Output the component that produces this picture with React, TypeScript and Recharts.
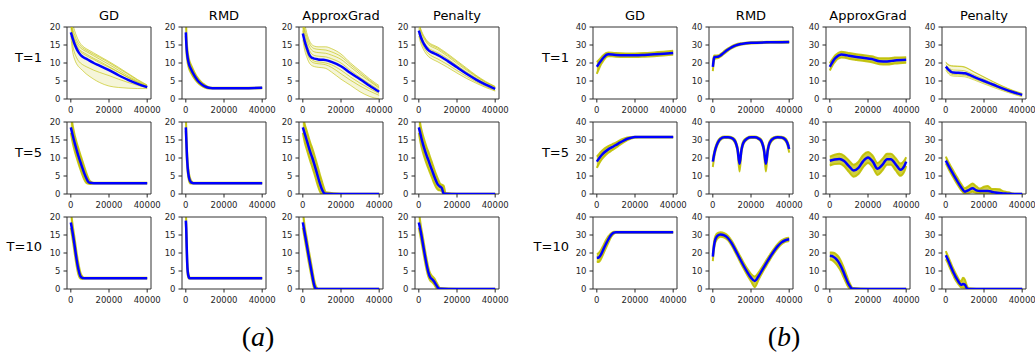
import React from 'react';
import { ComposedChart, Line, Area, XAxis, YAxis, ReferenceArea } from 'recharts';

// each row: [iteration, mean, low, high, ...single runs]
type Row = number[];

const methods = ['GD', 'RMD', 'ApproxGrad', 'Penalty'];
const horizons = ['T=1', 'T=5', 'T=10'];
const xTicks = [0, 20000, 40000];
const yTicksA = [0, 5, 10, 15, 20];
const yTicksB = [0, 10, 20, 30, 40];

// ---- (a) ----
const aGD1: Row[] = [
  [0, 18.5, 17.5, 24, 22, 21, 23, 20.5, 21.5],
  [1000, 16.8, 13.0, 21, 18.5, 17.5, 19.5, 15.0, 18.0],
  [2000, 15.2, 11.0, 19, 16.8, 15.8, 17.8, 12.8, 16.2],
  [3000, 14.0, 9.8, 17.5, 15.6, 14.6, 16.4, 11.5, 15.0],
  [4000, 13.0, 9.0, 16.3, 14.8, 13.7, 15.4, 10.6, 14.1],
  [5000, 12.3, 8.5, 15.4, 14.2, 13.1, 14.8, 10.0, 13.5],
  [6000, 11.8, 8.0, 14.8, 13.8, 12.7, 14.3, 9.6, 13.1],
  [8000, 11.2, 7.0, 14.0, 13.2, 12.1, 13.6, 9.0, 12.5],
  [10000, 10.6, 6.2, 13.4, 12.6, 11.5, 13.0, 8.5, 11.9],
  [12000, 10.0, 5.5, 12.8, 12.0, 11.0, 12.4, 8.0, 11.3],
  [15000, 9.3, 4.6, 11.9, 11.1, 10.1, 11.6, 7.4, 10.5],
  [20000, 8.0, 3.6, 10.4, 9.6, 8.8, 10.1, 6.5, 9.0],
  [25000, 6.6, 3.2, 8.8, 8.0, 7.4, 8.5, 5.5, 7.5],
  [30000, 5.3, 3.0, 7.1, 6.4, 6.0, 6.9, 4.6, 6.0],
  [35000, 4.2, 2.9, 5.4, 4.9, 4.7, 5.2, 3.8, 4.6],
  [40000, 3.3, 2.9, 3.9, 3.6, 3.5, 3.8, 3.1, 3.4],
];
const aRMD1: Row[] = [
  [0, 18.5, 17.5, 24], [300, 15, 13.3, 18], [700, 12.5, 11.0, 14.5], [1500, 10, 8.8, 11.4],
  [3000, 8, 7.0, 9.1], [4500, 6.5, 5.7, 7.4], [6000, 5.3, 4.7, 6.0], [8000, 4.2, 3.8, 4.7],
  [10000, 3.5, 3.2, 3.9], [12000, 3.1, 2.9, 3.3], [14000, 3.0, 2.9, 3.1], [20000, 3.0, 2.9, 3.1],
  [30000, 3.0, 2.9, 3.1], [40000, 3.1, 3.0, 3.2],
];
const aApprox1: Row[] = [
  [0, 18.2, 16.5, 24, 22, 21, 19, 20, 23],
  [1000, 16.0, 13.5, 21, 18.5, 17.5, 14.8, 15.5, 19.5],
  [2000, 14.3, 11.8, 18.5, 16.5, 15.5, 13.0, 13.6, 17.5],
  [3000, 12.8, 10.4, 16.8, 15.0, 14.0, 11.6, 12.2, 16.0],
  [4000, 11.8, 9.6, 15.6, 14.0, 13.0, 10.7, 11.3, 14.9],
  [5000, 11.4, 9.2, 15.0, 13.4, 12.4, 10.2, 10.8, 14.3],
  [6000, 11.2, 9.0, 14.7, 13.1, 12.1, 10.0, 10.5, 14.0],
  [8000, 11.0, 8.8, 14.5, 12.9, 11.9, 9.8, 10.3, 13.8],
  [10000, 10.9, 8.7, 14.5, 12.8, 11.8, 9.7, 10.2, 13.7],
  [12000, 10.8, 8.5, 14.5, 12.7, 11.7, 9.5, 10.0, 13.6],
  [15000, 10.3, 7.5, 14.0, 12.2, 11.2, 8.8, 9.5, 13.1],
  [20000, 9.1, 5.5, 12.5, 11.0, 10.0, 7.0, 8.0, 11.8],
  [25000, 7.2, 3.8, 10.0, 8.9, 7.9, 5.2, 6.1, 9.5],
  [30000, 5.5, 2.0, 7.8, 6.8, 6.0, 3.6, 4.4, 7.3],
  [35000, 3.7, 0.7, 5.6, 4.9, 4.2, 2.2, 2.9, 5.2],
  [40000, 2.0, 0.0, 3.7, 3.0, 2.5, 1.0, 1.5, 3.3],
];
const aPen1: Row[] = [
  [0, 19.0, 17.5, 21, 20.5, 18.2, 19.6, 21.5],
  [1000, 17.3, 15.5, 19.5, 18.8, 16.3, 17.8, 19.2],
  [2000, 16.0, 14.2, 18.2, 17.5, 15.0, 16.6, 17.9],
  [3000, 15.0, 13.2, 17.2, 16.5, 14.0, 15.6, 16.9],
  [4000, 14.2, 12.4, 16.4, 15.7, 13.2, 14.8, 16.1],
  [5000, 13.6, 11.8, 15.8, 15.1, 12.6, 14.2, 15.5],
  [6000, 13.2, 11.4, 15.4, 14.7, 12.2, 13.8, 15.1],
  [8000, 12.7, 10.8, 14.9, 14.2, 11.6, 13.3, 14.6],
  [10000, 12.2, 10.3, 14.4, 13.7, 11.1, 12.8, 14.1],
  [12000, 11.6, 9.7, 13.7, 13.0, 10.5, 12.2, 13.4],
  [15000, 10.6, 8.8, 12.6, 11.9, 9.6, 11.2, 12.3],
  [20000, 8.8, 7.2, 10.6, 9.9, 7.9, 9.3, 10.3],
  [25000, 7.0, 5.7, 8.6, 8.0, 6.3, 7.5, 8.3],
  [30000, 5.4, 4.4, 6.6, 6.2, 4.8, 5.8, 6.4],
  [35000, 4.0, 3.2, 4.9, 4.6, 3.5, 4.3, 4.7],
  [40000, 2.8, 2.2, 3.5, 3.3, 2.4, 3.0, 3.4],
];
const aGD5: Row[] = [
  [0, 18.5, 17.0, 23], [1000, 16.3, 14.2, 19], [2000, 14.2, 12.0, 16.4], [3000, 12.3, 10.2, 14.4],
  [4000, 10.5, 8.5, 12.6], [5000, 8.9, 6.9, 10.9], [6000, 7.3, 5.4, 9.3], [7000, 5.8, 4.1, 7.6],
  [8000, 4.5, 3.2, 6.0], [9000, 3.5, 2.9, 4.6], [10000, 3.1, 2.8, 3.6], [12000, 3.0, 2.9, 3.1],
  [15000, 3.0, 2.9, 3.1], [20000, 3.0, 2.9, 3.1], [30000, 3.0, 2.9, 3.1], [40000, 3.0, 2.9, 3.1],
];
const aRMD5: Row[] = [
  [0, 18.5, 17.5, 22], [300, 14.5, 12.5, 17], [600, 10.5, 8.7, 12.5], [1000, 7.2, 5.9, 8.8],
  [1500, 5.0, 4.1, 6.2], [2000, 3.9, 3.2, 4.8], [2500, 3.4, 2.9, 4.0], [3000, 3.15, 2.9, 3.5],
  [4000, 3.0, 2.9, 3.1], [6000, 3.0, 2.9, 3.1], [10000, 3.0, 2.9, 3.1], [20000, 3.0, 2.9, 3.1],
  [30000, 3.0, 2.9, 3.1], [40000, 3.0, 2.9, 3.1],
];
const aApprox5: Row[] = [
  [0, 18.5, 17.0, 22], [1000, 16.8, 14.4, 19.4], [2000, 15.0, 12.5, 17.6], [3000, 13.2, 10.7, 15.8],
  [4000, 11.5, 9.0, 14.1], [5000, 10.0, 7.4, 12.6], [6000, 8.3, 5.7, 10.9], [7000, 6.5, 3.9, 9.1],
  [8000, 4.6, 2.1, 7.2], [9000, 2.8, 0.7, 5.3], [10000, 1.3, 0, 3.5], [11000, 0.3, 0, 1.8],
  [12000, 0.05, 0, 0.5], [20000, 0, 0, 0.1], [30000, 0, 0, 0.1], [40000, 0, 0, 0.1],
];
const aPen5: Row[] = [
  [0, 18.5, 17.0, 22], [1000, 16.3, 14.0, 18.8], [2000, 14.2, 11.9, 16.6], [3000, 12.4, 10.1, 14.8],
  [4000, 10.8, 8.5, 13.1], [5000, 9.4, 7.1, 11.7], [6000, 7.9, 5.7, 10.1], [7000, 6.5, 4.4, 8.6],
  [8000, 5.0, 3.0, 7.0], [9000, 3.7, 1.9, 5.5], [10000, 2.6, 1.2, 4.2], [11000, 2.1, 1.0, 3.0],
  [12000, 1.7, 0.8, 2.6], [13000, 0.2, 0, 2.3], [14000, 0.05, 0, 0.3], [20000, 0, 0, 0.1],
  [30000, 0, 0, 0.1], [40000, 0, 0, 0.1],
];
const aGD10: Row[] = [
  [0, 18.5, 17.0, 22], [1000, 15.5, 13.6, 17.6], [2000, 12.0, 10.0, 14.0], [3000, 8.3, 6.5, 10.2],
  [4000, 5.4, 4.0, 7.0], [5000, 3.6, 2.9, 4.6], [6000, 3.1, 2.8, 3.5], [7000, 3.0, 2.9, 3.1],
  [8000, 3.0, 2.9, 3.1], [10000, 3.0, 2.9, 3.1], [20000, 3.0, 2.9, 3.1], [30000, 3.0, 2.9, 3.1],
  [40000, 3.0, 2.9, 3.1],
];
const aRMD10: Row[] = [
  [0, 19.0, 18.5, 22], [200, 17, 15.0, 19.0], [400, 13, 11.0, 15.0], [700, 7.5, 6.0, 9.0],
  [1000, 4.8, 3.9, 5.9], [1500, 3.4, 2.9, 4.0], [2000, 3.0, 2.9, 3.2], [3000, 3.0, 2.9, 3.1],
  [10000, 3.0, 2.9, 3.1], [20000, 3.0, 2.9, 3.1], [30000, 3.0, 2.9, 3.1], [40000, 3.0, 2.9, 3.1],
];
const aApprox10: Row[] = [
  [0, 18.5, 17.0, 22], [1000, 15.5, 13.8, 17.3], [2000, 12.5, 10.8, 14.3], [3000, 9.4, 7.7, 11.1],
  [4000, 6.5, 4.9, 8.2], [5000, 3.6, 2.2, 5.2], [6000, 1.0, 0.1, 2.4], [7000, 0.05, 0, 0.6],
  [8000, 0, 0, 0.1], [20000, 0, 0, 0.1], [30000, 0, 0, 0.1], [40000, 0, 0, 0.1],
];
const aPen10: Row[] = [
  [0, 18.5, 17.0, 22], [1000, 16.0, 14.2, 17.8], [2000, 13.0, 11.2, 14.8], [3000, 9.9, 8.2, 11.6],
  [4000, 7.0, 5.5, 8.6], [5000, 4.6, 3.4, 6.0], [6000, 3.2, 2.3, 4.3], [7000, 2.7, 1.9, 3.6],
  [8000, 2.1, 1.3, 3.0], [9000, 1.2, 0.4, 2.1], [10000, 0.4, 0, 1.1], [11000, 0.05, 0, 0.3],
  [20000, 0, 0, 0.1], [30000, 0, 0, 0.1], [40000, 0, 0, 0.1],
];

// ---- (b) ----
const bGD1: Row[] = [
  [0, 17.9, 14.0, 20.5], [1000, 19.5, 16.5, 21.5], [2000, 21.0, 18.8, 22.7], [3000, 22.4, 20.6, 23.9],
  [4000, 23.6, 22.2, 24.9], [5000, 24.5, 23.4, 25.6], [6000, 24.8, 23.8, 25.8], [8000, 24.7, 23.7, 25.7],
  [10000, 24.5, 23.5, 25.5], [15000, 24.3, 23.3, 25.3], [20000, 24.3, 23.3, 25.3], [25000, 24.5, 23.5, 25.5],
  [30000, 24.8, 23.8, 25.9], [35000, 25.2, 24.2, 26.3], [40000, 25.6, 24.6, 26.8],
];
const bRMD1: Row[] = [
  [0, 17.8, 15.5, 19.5], [300, 20.5, 18.6, 22.3], [700, 23.0, 21.6, 24.2], [1000, 23.3, 22.3, 24.2],
  [2000, 23.4, 22.6, 24.2], [3000, 23.6, 22.9, 24.3], [4000, 24.2, 23.5, 24.9], [5000, 25.0, 24.3, 25.7],
  [6000, 25.9, 25.2, 26.6], [8000, 27.5, 26.9, 28.1], [10000, 28.8, 28.2, 29.4], [12000, 29.8, 29.3, 30.3],
  [15000, 30.6, 30.2, 31.0], [20000, 31.2, 30.9, 31.5], [30000, 31.5, 31.2, 31.8], [40000, 31.6, 31.3, 31.9],
];
const bApprox1: Row[] = [
  [0, 17.9, 15.8, 19.8], [1000, 19.8, 17.9, 21.6], [2000, 21.5, 19.7, 23.2], [3000, 22.8, 21.1, 24.4],
  [4000, 23.8, 22.2, 25.3], [5000, 24.4, 22.8, 25.9], [6000, 24.7, 23.1, 26.2], [8000, 24.5, 22.9, 26.0],
  [10000, 24.0, 22.4, 25.5], [14000, 23.3, 21.7, 24.8], [18000, 22.8, 21.1, 24.3], [22000, 22.2, 20.4, 23.7],
  [26000, 21.0, 19.3, 22.6], [30000, 20.9, 19.2, 22.6], [34000, 21.4, 19.7, 23.0], [40000, 21.8, 20.2, 23.2],
];
const bPen1: Row[] = [
  [0, 18.0, 16.0, 20.5, 20.2, 19.0, 16.8, 17.5],
  [1000, 16.8, 14.5, 19.5, 19.0, 17.8, 15.4, 16.0],
  [2000, 15.8, 13.4, 18.8, 18.5, 16.9, 14.3, 15.0],
  [3000, 15.0, 12.9, 18.5, 18.3, 16.3, 13.7, 14.3],
  [4000, 14.7, 12.7, 18.4, 18.2, 16.1, 13.5, 14.0],
  [6000, 14.6, 12.6, 18.3, 18.1, 16.0, 13.4, 13.9],
  [8000, 14.5, 12.5, 18.2, 18.0, 15.9, 13.3, 13.8],
  [10000, 14.3, 12.3, 17.8, 17.6, 15.6, 13.1, 13.6],
  [12000, 13.6, 11.7, 16.8, 16.6, 14.8, 12.5, 12.9],
  [15000, 12.2, 10.5, 15.0, 14.8, 13.3, 11.2, 11.6],
  [20000, 10.0, 8.4, 12.3, 12.1, 11.0, 9.1, 9.5],
  [25000, 7.9, 6.4, 9.6, 9.4, 8.6, 7.0, 7.4],
  [30000, 5.8, 4.5, 7.1, 6.9, 6.4, 5.1, 5.4],
  [35000, 3.9, 2.8, 4.9, 4.7, 4.4, 3.3, 3.6],
  [40000, 2.3, 1.2, 3.2, 3.0, 2.7, 1.7, 2.0],
];
const bGD5: Row[] = [
  [0, 18.0, 14.5, 20.8], [1000, 19.5, 16.5, 22.0], [2000, 21.0, 18.4, 23.2], [3000, 22.2, 19.8, 24.3],
  [4000, 23.2, 21.0, 25.2], [6000, 24.8, 22.9, 26.6], [8000, 26.0, 24.3, 27.6], [10000, 27.2, 25.7, 28.6],
  [12000, 28.5, 27.2, 29.8], [14000, 29.7, 28.6, 30.7], [16000, 30.7, 29.9, 31.4], [18000, 31.3, 30.8, 31.7],
  [20000, 31.6, 31.3, 31.8], [22000, 31.6, 31.4, 31.8], [30000, 31.6, 31.4, 31.8], [40000, 31.6, 31.4, 31.8],
];
const bRMD5: Row[] = [
  [0, 18, 15.0, 19.5], [1000, 23.5, 22.0, 24.7], [2000, 27, 26.0, 28.0], [3000, 29.3, 28.5, 30.1],
  [4000, 30.6, 30.0, 31.2], [6000, 31.5, 31.1, 31.9], [8000, 31.5, 31.1, 31.9], [10000, 31.0, 30.5, 31.5],
  [11000, 30.2, 29.5, 30.9], [12000, 28.5, 27.5, 29.4], [13000, 24.5, 23.0, 25.8], [14000, 16.8, 12.5, 18.5],
  [15000, 24.5, 23.0, 25.8], [16000, 28.5, 27.5, 29.4], [18000, 30.8, 30.3, 31.3], [20000, 31.5, 31.1, 31.9],
  [22000, 31.5, 31.1, 31.9], [24000, 30.8, 30.3, 31.3], [25000, 30.0, 29.3, 30.7], [25800, 28.5, 27.5, 29.4],
  [26800, 24.5, 23.0, 25.8], [27800, 16.8, 12.5, 18.5], [28800, 24.5, 23.0, 25.8], [29800, 28.5, 27.5, 29.4],
  [32000, 31.0, 30.5, 31.5], [34000, 31.5, 31.1, 31.9], [36000, 31.4, 31.0, 31.8], [38000, 30.2, 29.5, 30.9],
  [39000, 28.5, 27.5, 29.4], [40000, 25.0, 23.0, 26.3],
];
const bApprox5: Row[] = [
  [0, 18.5, 15.8, 20.8], [2500, 19.2, 16.6, 21.8], [5000, 19.5, 16.8, 22.3], [7500, 18.3, 15.4, 21.2],
  [10000, 15.5, 12.3, 18.6], [12500, 13.0, 9.6, 16.2], [15000, 14.5, 11.1, 17.9], [17500, 18.3, 14.9, 21.7],
  [20000, 20.3, 17.2, 23.3], [22500, 18.0, 14.8, 21.2], [25000, 14.0, 10.6, 17.2], [27500, 16.2, 13.0, 19.4],
  [30000, 19.3, 16.2, 22.3], [32000, 19.3, 16.2, 22.3], [34500, 16.5, 13.1, 19.9], [37000, 13.5, 10.1, 16.9],
  [39000, 15.5, 12.4, 18.6], [40000, 18.0, 15.6, 20.4],
];
const bPen5: Row[] = [
  [0, 18.5, 17.0, 20.8], [2000, 14.5, 12.7, 16.5], [4000, 10.8, 9.0, 12.8], [6000, 7.2, 5.4, 9.1],
  [8000, 3.8, 2.2, 5.6], [10000, 1.3, 0.2, 3.2], [12000, 2.2, 0.6, 4.4], [14000, 3.2, 1.3, 5.8],
  [16000, 2.0, 0.6, 4.2], [18000, 1.6, 0.5, 3.0], [20000, 1.6, 0.4, 4.0], [22000, 1.6, 0.4, 4.4],
  [24000, 1.3, 0.2, 2.8], [26000, 0.8, 0.1, 2.8], [28000, 0.5, 0, 2.6], [30000, 0.3, 0, 1.6],
  [32000, 0.2, 0, 1.1], [34000, 0.1, 0, 0.6], [36000, 0, 0, 0.2], [40000, 0, 0, 0.1],
];
const bGD10: Row[] = [
  [0, 17.3, 15.0, 19.5], [1000, 17.5, 15.0, 20.0], [2000, 18.8, 16.3, 21.3], [3000, 21.0, 18.5, 23.3],
  [4000, 23.3, 20.9, 25.5], [5000, 25.5, 23.3, 27.5], [6000, 27.5, 25.6, 29.2], [7000, 29.3, 27.9, 30.5],
  [8000, 30.6, 29.6, 31.4], [9000, 31.3, 30.7, 31.8], [10000, 31.5, 31.2, 31.8], [20000, 31.5, 31.2, 31.8],
  [30000, 31.5, 31.2, 31.8], [40000, 31.5, 31.2, 31.8],
];
const bRMD10: Row[] = [
  [0, 18.0, 15.5, 19.5], [500, 23.0, 21.0, 25.0], [1000, 26.3, 24.5, 28.2], [2000, 29.0, 27.3, 30.6],
  [3000, 30.0, 28.5, 31.3], [4000, 30.3, 29.0, 31.5], [6000, 29.8, 28.6, 31.0], [8000, 28.2, 27.0, 29.5],
  [10000, 25.2, 23.9, 26.6], [12000, 21.3, 19.9, 22.8], [14000, 17.2, 15.7, 18.8], [16000, 13.2, 11.6, 14.9],
  [18000, 9.5, 7.8, 11.3], [20000, 6.3, 4.3, 8.4], [22000, 4.5, 1.0, 7.0], [24000, 7.2, 5.3, 9.2],
  [26000, 10.8, 9.2, 12.5], [28000, 14.3, 12.8, 15.9], [30000, 17.8, 16.4, 19.2], [32000, 21.0, 19.7, 22.3],
  [34000, 23.8, 22.6, 25.0], [36000, 25.9, 24.9, 27.0], [38000, 27.1, 26.2, 28.1], [40000, 27.6, 26.7, 28.5],
];
const bApprox10: Row[] = [
  [0, 18.5, 16.5, 20.3], [1000, 18.3, 16.0, 20.3], [2000, 17.8, 15.3, 20.1], [3000, 17.0, 14.3, 19.6],
  [4000, 15.8, 13.0, 18.6], [5000, 14.2, 11.4, 17.2], [6000, 12.2, 9.4, 15.2], [7000, 9.8, 7.1, 12.7],
  [8000, 7.2, 4.7, 9.9], [9000, 4.6, 2.4, 7.0], [10000, 2.4, 0.7, 4.2], [11000, 0.8, 0, 2.0],
  [12000, 0.1, 0, 0.5], [20000, 0, 0, 0.1], [30000, 0, 0, 0.1], [40000, 0, 0, 0.1],
];
const bPen10: Row[] = [
  [0, 18.8, 16.5, 21.0], [1000, 16.5, 14.5, 18.5], [2000, 14.0, 12.0, 16.0], [3000, 11.5, 9.5, 13.5],
  [4000, 9.2, 7.3, 11.1], [5000, 7.0, 5.1, 8.9], [6000, 5.2, 3.5, 6.9], [7000, 3.5, 2.1, 5.0],
  [8000, 2.3, 1.0, 4.3], [9000, 2.8, 0.8, 6.2], [10000, 2.4, 0.6, 5.2], [11000, 0.5, 0, 2.0],
  [12000, 0.05, 0, 0.4], [20000, 0, 0, 0.1], [30000, 0, 0, 0.1], [40000, 0, 0, 0.1],
];

const gridA = [
  [aGD1, aRMD1, aApprox1, aPen1],
  [aGD5, aRMD5, aApprox5, aPen5],
  [aGD10, aRMD10, aApprox10, aPen10],
];
const gridB = [
  [bGD1, bRMD1, bApprox1, bPen1],
  [bGD5, bRMD5, bApprox5, bPen5],
  [bGD10, bRMD10, bApprox10, bPen10],
];

const colsA = [67, 182, 299, 415];
const colsB = [593, 709, 826, 942];
const rowTops = [27, 122, 217];
const rowBaselines = [62, 157, 251];
const PW = 84;
const PH = 72;
const YAW = 26;

const FONT = '"DejaVu Sans", sans-serif';
const INK = '#262626';
const OLIVE = '#bfbf00';

interface PanelProps {
  rows: Row[];
  yMax: number;
  yTicks: number[];
  left: number;
  top: number;
}

const Panel: React.FC<PanelProps> = ({ rows, yMax, yTicks, left, top }) => {
  const runs = rows[0].length - 4;
  const data = rows.map((r) => {
    const d: Record<string, any> = { x: r[0], mean: r[1], band: [r[2], r[3]] };
    for (let i = 0; i < runs; i++) d['run' + i] = r[4 + i];
    return d;
  });
  // the T=1 panels on the left show single runs spread apart
  const spread = runs > 0;

  return (
    <div style={{ position: 'absolute', left: left - YAW, top: top - 5 }}>
      <ComposedChart width={YAW + PW + 18} height={PH + 25} data={data}
        margin={{ top: 5, right: 18, bottom: 0, left: 0 }}>
        <XAxis dataKey="x" type="number" domain={[-2000, 42000]} ticks={xTicks} interval={0}
          allowDataOverflow height={20} axisLine={false} tickSize={3.5} tickMargin={4}
          tickLine={{ stroke: INK }} tick={{ fontSize: 8.5, fill: INK, fontFamily: FONT }} />
        <YAxis type="number" domain={[0, yMax]} ticks={yTicks} interval={0}
          allowDataOverflow width={YAW} axisLine={false} tickSize={3.5} tickMargin={3}
          tickLine={{ stroke: INK }} tick={{ fontSize: 8.5, fill: INK, fontFamily: FONT }} />
        <Area dataKey="band" type="monotone" stroke={OLIVE} strokeOpacity={spread ? 0.6 : 0.9}
          strokeWidth={spread ? 1 : 2} fill={OLIVE} fillOpacity={spread ? 0.15 : 0.75}
          dot={false} activeDot={false} isAnimationActive={false} />
        {Array.from({ length: runs }, (_, i) => (
          <Line key={i} dataKey={'run' + i} type="monotone" stroke={OLIVE} strokeOpacity={0.6}
            strokeWidth={1} dot={false} activeDot={false} isAnimationActive={false} />
        ))}
        <Line dataKey="mean" type="monotone" stroke="#0000ff" strokeWidth={2.5}
          dot={false} activeDot={false} isAnimationActive={false} />
        <ReferenceArea x1={-2000} x2={42000} y1={0} y2={yMax} fill="none" fillOpacity={0}
          stroke="#333" strokeWidth={1} />
      </ComposedChart>
    </div>
  );
};

const App: React.FC = () => {
  const groups = [
    { grid: gridA, cols: colsA, yMax: 20, yTicks: yTicksA, labelX: 42, caption: 'a', capX: 258 },
    { grid: gridB, cols: colsB, yMax: 40, yTicks: yTicksB, labelX: 569, caption: 'b', capX: 784 },
  ];

  return (
    <div style={{ position: 'absolute', left: 0, top: 0, width: 1035, height: 352, overflow: 'hidden', background: '#fff' }}>
      {groups.map((g) =>
        g.grid.map((row, ri) =>
          row.map((rows, ci) => (
            <Panel key={g.caption + ri + ci} rows={rows} yMax={g.yMax} yTicks={g.yTicks}
              left={g.cols[ci]} top={rowTops[ri]} />
          ))
        )
      )}
      <svg width={1035} height={352} style={{ position: 'absolute', left: 0, top: 0, pointerEvents: 'none' }}>
        {groups.map((g) => (
          <g key={g.caption}>
            {methods.map((m, ci) => (
              <text key={m} x={g.cols[ci] + PW / 2} y={20} textAnchor="middle"
                fontFamily={FONT} fontSize={13} fill="#000">{m}</text>
            ))}
            {horizons.map((h, ri) => (
              <text key={h} x={g.labelX} y={rowBaselines[ri]} textAnchor="end"
                fontFamily={FONT} fontSize={13} fill="#000">{h}</text>
            ))}
            <text x={g.capX} y={346} textAnchor="middle" fontFamily='"Liberation Serif", serif'
              fontSize={28} fill="#000">
              (<tspan fontStyle="italic">{g.caption}</tspan>)
            </text>
          </g>
        ))}
      </svg>
    </div>
  );
};

export default App;
